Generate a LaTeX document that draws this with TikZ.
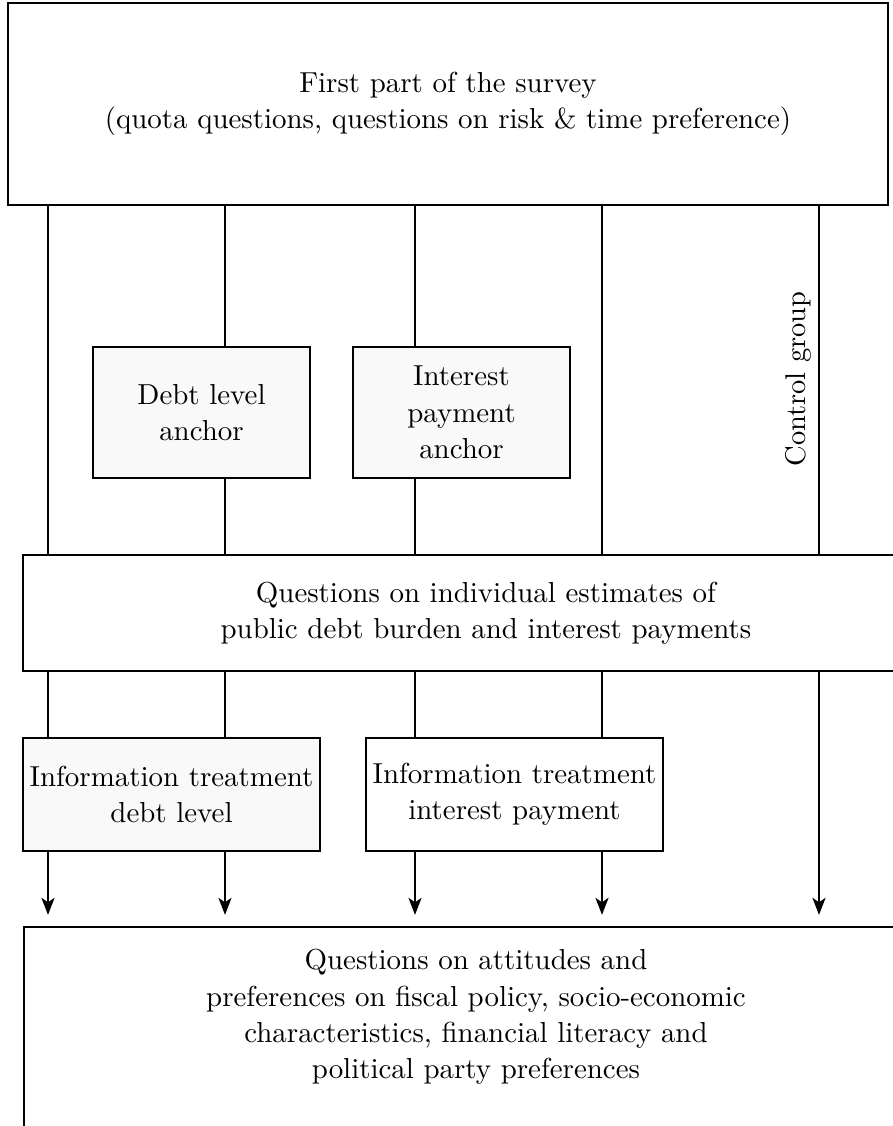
\documentclass[tikz,border=0pt]{standalone}
\usetikzlibrary{arrows.meta}
\definecolor{boxfill}{HTML}{F9F9F9}
\def\pxu{0.351pt}
\tikzset{
  txt/.style={align=center, font=\fontsize{10.15}{12.8}\selectfont},
  frame/.style={draw, line width=0.7pt, inner sep=0pt, txt},
  shaded/.style={frame, fill=boxfill},
  link/.style={line width=0.7pt},
  arrowlink/.style={line width=0.7pt, -{Stealth[length=6pt,width=4.6pt,inset=1.6pt]}, shorten >=3.9pt},
}
\begin{document}
\begin{tikzpicture}[x=\pxu, y=-\pxu]
\useasboundingbox (0,0) rectangle (893,1126);
\clip (0,0) rectangle (893,1126);
% column coordinates
\coordinate (c1) at (48,0);
\coordinate (c2) at (225,0);
\coordinate (c3) at (415,0);
\coordinate (c4) at (602,0);
\coordinate (c5) at (819,0);
% nodes
\node[frame, minimum width={880*\pxu}, minimum height={202*\pxu}] (top) at (448,104)
  {First part of the survey\\(quota questions, questions on risk \& time preference)};
\node[shaded, minimum width={217*\pxu}, minimum height={131*\pxu}] (danchor) at (201.5,412.5)
  {Debt level\\anchor};
\node[shaded, minimum width={217*\pxu}, minimum height={131*\pxu}] (ianchor) at (461.5,412.5)
  {Interest\\payment\\anchor};
\node[frame, minimum width={926*\pxu}, minimum height={116*\pxu}] (mid) at (486,613)
  {Questions on individual estimates of\\public debt burden and interest payments};
\node[shaded, minimum width={297*\pxu}, minimum height={113*\pxu}] (dinfo) at (171.5,794.5)
  {Information treatment\\debt level};
\node[frame, minimum width={297*\pxu}, minimum height={113*\pxu}] (iinfo) at (514.5,794.5)
  {Information treatment\\interest payment};
\node[draw, line width=0.7pt, minimum width={905*\pxu}, minimum height={400*\pxu}, anchor=north west] (bottom) at (23,926) {};
\node[txt, inner sep=0pt] (bottomtext) at (476,1017)
  {Questions on attitudes and\\preferences on fiscal policy, socio-economic\\characteristics, financial literacy and\\political party preferences};
\node[rotate=90, anchor=south, inner sep=2.4pt] (ctrl) at (819,379) {Control group};
% connectors: first part -> middle
\draw[link] (top.south -| c1) -- (mid.north -| c1);
\draw[link] (top.south -| c2) -- (danchor.north -| c2);
\draw[link] (danchor.south -| c2) -- (mid.north -| c2);
\draw[link] (top.south -| c3) -- (ianchor.north -| c3);
\draw[link] (ianchor.south -| c3) -- (mid.north -| c3);
\draw[link] (top.south -| c4) -- (mid.north -| c4);
\draw[link] (top.south -| c5) -- (mid.north -| c5);
% middle -> info boxes
\draw[link] (mid.south -| c1) -- (dinfo.north -| c1);
\draw[link] (mid.south -| c2) -- (dinfo.north -| c2);
\draw[link] (mid.south -| c3) -- (iinfo.north -| c3);
\draw[link] (mid.south -| c4) -- (iinfo.north -| c4);
% arrows to final block
\draw[arrowlink] (dinfo.south -| c1) -- (bottom.north -| c1);
\draw[arrowlink] (dinfo.south -| c2) -- (bottom.north -| c2);
\draw[arrowlink] (iinfo.south -| c3) -- (bottom.north -| c3);
\draw[arrowlink] (iinfo.south -| c4) -- (bottom.north -| c4);
\draw[arrowlink] (mid.south -| c5) -- (bottom.north -| c5);
\end{tikzpicture}
\end{document}
